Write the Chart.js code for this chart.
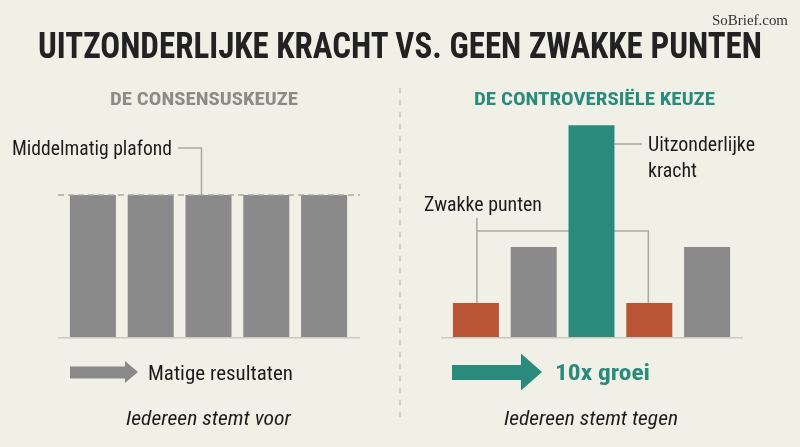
<!DOCTYPE html>
<html><head><meta charset="utf-8">
<script src="https://cdn.jsdelivr.net/npm/chart.js@4.4.1/dist/chart.umd.min.js"></script>
<style>
html,body{margin:0;padding:0;background:#f1f0e7;}
#wrap{position:relative;width:800px;height:447px;overflow:hidden;background:#f1f0e7;font-family:"Roboto Condensed","Liberation Sans Narrow","DejaVu Sans Condensed",Roboto,sans-serif;}
.t{position:absolute;white-space:nowrap;line-height:1;transform-origin:0 0;left:0;top:0;}
.box{position:absolute;top:0;width:400px;height:447px;}
svg{position:absolute;left:0;top:0;}
</style></head>
<body><div id="wrap">
<div class="box" style="left:0"><canvas id="leftChart"></canvas></div>
<div class="box" style="left:400px"><canvas id="rightChart"></canvas></div>
<svg width="800" height="447">
  <line x1="400" y1="88" x2="400" y2="422" stroke="#c4c4bc" stroke-width="1.5" stroke-dasharray="5 7"/>
  <polygon points="70,366.5 125,366.5 125,361 138,372 125,383 125,378.5 70,378.5" fill="#8a8a8a"/>
  <polygon points="452,365 521,365 521,353.5 542,372 521,390.5 521,380 452,380" fill="#2a8b7d"/>
</svg>
<div class="t" data-x="38" data-b="58" data-w="724" style="font-size:36px;font-weight:700;color:#222;">UITZONDERLIJKE KRACHT VS. GEEN ZWAKKE PUNTEN</div>
<div class="t" data-x="712" data-b="25" data-w="76" style="font-size:15px;font-family:'Liberation Serif','DejaVu Serif',serif;color:#333;">SoBrief.com</div>
<div class="t" data-x="110" data-b="105" data-w="188" style="font-size:19px;font-weight:700;color:#8c8c84;">DE CONSENSUSKEUZE</div>
<div class="t" data-x="474" data-b="105" data-w="241" style="font-size:19px;font-weight:700;color:#2a8b7d;">DE CONTROVERSIËLE KEUZE</div>
<div class="t" data-x="12" data-b="155" data-w="160" style="font-size:19.5px;color:#1c1c1c;">Middelmatig plafond</div>
<div class="t" data-x="648" data-b="151" data-w="107" style="font-size:20px;color:#1c1c1c;">Uitzonderlijke</div>
<div class="t" data-x="648" data-b="177" data-w="49" style="font-size:20px;color:#1c1c1c;">kracht</div>
<div class="t" data-x="424" data-b="211" data-w="118" style="font-size:19.5px;color:#1c1c1c;">Zwakke punten</div>
<div class="t" data-x="148" data-b="380" data-w="145" style="font-size:21px;color:#1c1c1c;">Matige resultaten</div>
<div class="t" data-x="555" data-b="380" data-w="95" style="font-size:22px;font-weight:700;color:#2a8b7d;">10x groei</div>
<div class="t" data-x="126" data-b="425" data-w="165" style="font-size:19.5px;font-style:italic;color:#1c1c1c;">Iedereen stemt voor</div>
<div class="t" data-x="504" data-b="425" data-w="174" style="font-size:19.5px;font-style:italic;color:#1c1c1c;">Iedereen stemt tegen</div>
</div>
<script>
// ---- data ----
const leftCategories = ['Optie 1','Optie 2','Optie 3','Optie 4','Optie 5'];
const leftValues = [6.7, 6.7, 6.7, 6.7, 6.7];
const ceilingValue = 6.7;
const rightCategories = ['Zwak punt','Gemiddeld','Uitzonderlijke kracht','Zwak punt','Gemiddeld'];
const rightKinds = ['weak','average','strong','weak','average'];
const rightValues = [1.6, 4.25, 10, 1.6, 4.25];
const yMax = 11;

// ---- styles ----
const kindColors = {weak:'#b95535', average:'#8a8a8a', strong:'#2a8b7d'};
const lineColor = '#a9a9a1';
const baseColor = '#cacac2';

// text placement
document.querySelectorAll('.t').forEach(el=>{
  const m = document.createElement('span');
  m.style.cssText='display:inline-block;width:0;height:0;';
  el.appendChild(m);
  const base = m.offsetTop;
  const w = el.getBoundingClientRect().width;
  const sx = (+el.dataset.w)/w;
  el.style.left = el.dataset.x+'px';
  el.style.top = (+el.dataset.b - base)+'px';
  el.style.transform = 'scaleX('+sx+')';
});

function baseOpts(padding){
  return {
    responsive:true, maintainAspectRatio:false, animation:false,
    layout:{padding},
    plugins:{legend:{display:false}, tooltip:{enabled:false}},
    scales:{
      x:{display:false},
      y:{display:false, min:0, max:yMax}
    }
  };
}

function line(ctx, pts, dash){
  ctx.save();
  ctx.strokeStyle = lineColor; ctx.lineWidth = 1.5;
  ctx.setLineDash(dash||[]);
  ctx.beginPath();
  ctx.moveTo(pts[0][0], pts[0][1]);
  for(let i=1;i<pts.length;i++) ctx.lineTo(pts[i][0], pts[i][1]);
  ctx.stroke();
  ctx.restore();
}

const baselinePlugin = {
  id:'baseline',
  beforeDatasetsDraw(chart){
    const {ctx, chartArea:a, scales:{y}} = chart;
    const yb = y.getPixelForValue(0)+0.75;
    ctx.save();
    ctx.strokeStyle = baseColor; ctx.lineWidth = 1.5;
    ctx.beginPath(); ctx.moveTo(a.left-6, yb); ctx.lineTo(a.right+7, yb); ctx.stroke();
    ctx.restore();
  }
};

const leftAnno = {
  id:'leftAnno',
  afterDatasetsDraw(chart){
    const {ctx, chartArea:a, scales:{y}} = chart;
    const yc = y.getPixelForValue(ceilingValue);
    line(ctx, [[a.left-6, yc],[a.right+7, yc]], [6,4]);
    const mid = chart.getDatasetMeta(0).data[2];
    const cx = mid.x - 7;
    line(ctx, [[178,148],[cx,148],[cx,yc]]);
  }
};

new Chart(document.getElementById('leftChart'), {
  type:'bar',
  data:{labels:leftCategories, datasets:[{data:leftValues, backgroundColor:kindColors.average, borderWidth:0, barPercentage:0.796, categoryPercentage:1}]},
  options:baseOpts({left:64, right:47, top:104, bottom:110}),
  plugins:[baselinePlugin, leftAnno]
});

const rightAnno = {
  id:'rightAnno',
  beforeDatasetsDraw(chart){
    const {ctx} = chart;
    const bars = chart.getDatasetMeta(0).data;
    const w1 = bars[0], w2 = bars[3];
    line(ctx, [[w1.x+1, 218],[w1.x+1, w1.y]]);
    line(ctx, [[w1.x+1, 231],[w2.x-1, 231],[w2.x-1, w2.y]]);
  },
  afterDatasetsDraw(chart){
    const {ctx} = chart;
    const s = chart.getDatasetMeta(0).data[2];
    line(ctx, [[s.x + s.width/2, 144],[242+0, 144]].map((p,i)=> i===1?[642-400,144]:p));
  }
};

new Chart(document.getElementById('rightChart'), {
  type:'bar',
  data:{labels:rightCategories, datasets:[{data:rightValues, backgroundColor:rightKinds.map(k=>kindColors[k]), borderWidth:0, barPercentage:0.796, categoryPercentage:1}]},
  options:baseOpts({left:47, right:64, top:104, bottom:110}),
  plugins:[baselinePlugin, rightAnno]
});
</script>
</body></html>
